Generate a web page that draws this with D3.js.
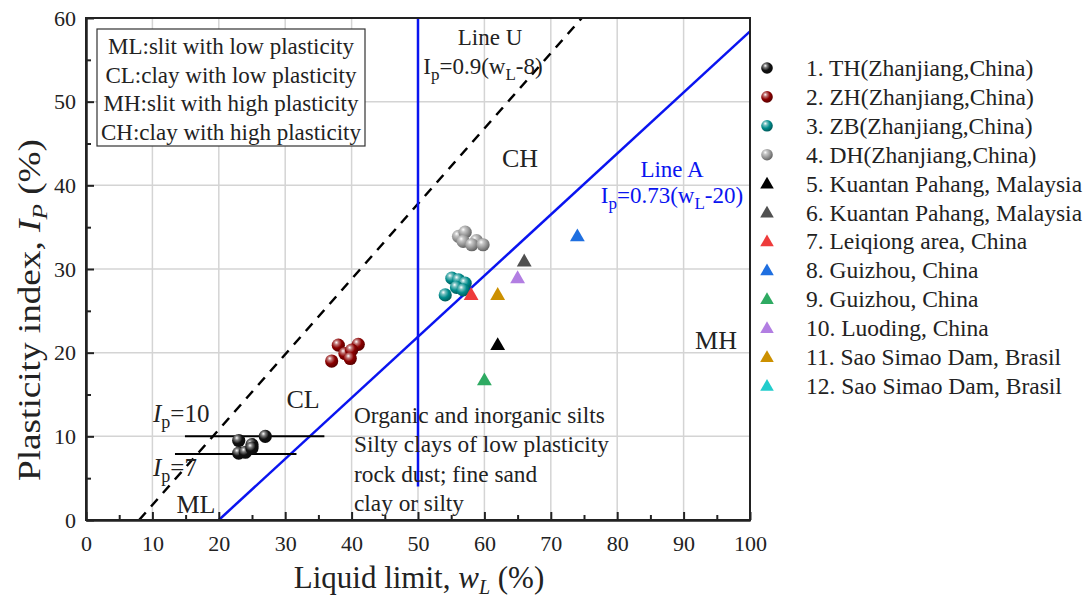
<!DOCTYPE html>
<html><head><meta charset="utf-8">
<script src="https://cdn.jsdelivr.net/npm/d3@7"></script>
<style>body{margin:0;background:#fff}svg{display:block}text{font-family:"Liberation Serif","Times New Roman",serif;fill:#222}</style>
</head><body><svg id="c" width="1088" height="601"></svg>
<script>
// ---- data ----
const xTicks = [0,10,20,30,40,50,60,70,80,90,100];
const yTicks = [0,10,20,30,40,50,60];
const seriesNames = ["1. TH(Zhanjiang,China)","2. ZH(Zhanjiang,China)","3. ZB(Zhanjiang,China)","4. DH(Zhanjiang,China)","5. Kuantan Pahang, Malaysia","6. Kuantan Pahang, Malaysia","7. Leiqiong area, China","8. Guizhou, China","9. Guizhou, China","10. Luoding, China","11. Sao Simao Dam, Brasil","12. Sao Simao Dam, Brasil"];
const seriesShapes = ["sphere","sphere","sphere","sphere","tri","tri","tri","tri","tri","tri","tri","tri"];
const seriesColors = ["#111111","#8b0000","#008b8b","#9a9a9a","#000000","#505050","#ee3b3b","#1f6fe0","#2eaa62","#b27ee2","#cc9000","#22cccc"];
const s1 = [[23,9.5],[27,10],[25,9],[23,8],[24,8.1],[25,8.6]];
const s2 = [[38,20.9],[41,21],[39,19.9],[40,20.3],[39.8,19.3],[37,19]];
const s3 = [[55.1,28.9],[56.1,28.7],[57.1,28.3],[55.8,27.8],[56.8,27.5],[54.1,26.9]];
const s4 = [[56.1,33.9],[57.1,34.4],[56.8,33.3],[58.8,33.4],[58.1,32.9],[59.8,32.9]];
const s5 = [[62,21]];
const s6 = [[66,31]];
const s7 = [[58,27]];
const s8 = [[74,34]];
const s9 = [[60,16.8]];
const s10 = [[65,29]];
const s11 = [[62,27]];
const s12 = [];
const seriesData = [s1,s2,s3,s4,s5,s6,s7,s8,s9,s10,s11,s12];
const lineU = [[8,0],[74.67,60]];          // Ip = 0.9(wL-8)
const lineA = [[20,0],[100,58.4]];         // Ip = 0.73(wL-20)
const lineV = [[50,60],[50,4]];            // wL = 50
const lineIp10 = [[14.9,10],[35.9,10]];
const lineIp7 = [[13.4,7.9],[31.7,7.9]];
const legendBoxLines = ["ML:slit with low plasticity","CL:clay with low plasticity","MH:slit with high plasticity","CH:clay with high plasticity"];
const organicLines = ["Organic and inorganic silts","Silty clays of low plasticity","rock dust; fine sand","clay or silty"];

// ---- layout ----
const svg = d3.select("#c");
const L=86,R=750,T=18,B=520;
const x = d3.scaleLinear().domain([0,100]).range([L,R]);
const y = d3.scaleLinear().domain([0,60]).range([B,T]);

// grid
const g = svg.append("g");
g.selectAll(".gx").data(xTicks.slice(1,-1)).join("line")
 .attr("x1",d=>x(d)).attr("x2",d=>x(d)).attr("y1",T).attr("y2",B)
 .attr("stroke","#d4d4d4").attr("stroke-width",1.5);
g.selectAll(".gy").data(yTicks.slice(1,-1)).join("line")
 .attr("y1",d=>y(d)).attr("y2",d=>y(d)).attr("x1",L).attr("x2",R)
 .attr("stroke","#d4d4d4").attr("stroke-width",1.5);

// defs gradients
const defs = svg.append("defs");
seriesColors.forEach((c,i)=>{
  const gr = defs.append("radialGradient").attr("id","sph"+i).attr("cx","38%").attr("cy","35%").attr("r","65%").attr("fx","35%").attr("fy","30%");
  gr.append("stop").attr("offset","0%").attr("stop-color","#ffffff");
  gr.append("stop").attr("offset","25%").attr("stop-color",d3.interpolateRgb("#ffffff",c)(0.55));
  gr.append("stop").attr("offset","60%").attr("stop-color",c);
  gr.append("stop").attr("offset","100%").attr("stop-color",d3.color(c).darker(1.2));
});

const line = d3.line().x(d=>x(d[0])).y(d=>y(d[1]));
svg.append("path").attr("d",line(lineU)).attr("fill","none").attr("stroke","#000").attr("stroke-width",2.5).attr("stroke-dasharray","10,8");
svg.append("path").attr("d",line(lineA)).attr("fill","none").attr("stroke","#0a14f0").attr("stroke-width",2.5);
svg.append("path").attr("d",line(lineV)).attr("fill","none").attr("stroke","#0a14f0").attr("stroke-width",2.5);
svg.append("path").attr("d",line(lineIp10)).attr("fill","none").attr("stroke","#000").attr("stroke-width",2);
svg.append("path").attr("d",line(lineIp7)).attr("fill","none").attr("stroke","#000").attr("stroke-width",2);

// annotations (drawn under marks)
const ann = (tx,ty,html,opts={})=>svg.append("text").attr("x",tx).attr("y",ty).attr("font-size",opts.fs||23).attr("text-anchor",opts.anchor||"middle").style("fill",opts.color||"#222").html(html);
ann(490,45,"Line U");
ann(483,74,'I<tspan font-size="17" dy="6">p</tspan><tspan dy="-6">=0.9(w</tspan><tspan font-size="17" dy="6">L</tspan><tspan dy="-6">-8)</tspan>');
ann(520,167,"CH",{fs:26});
ann(672,177,"Line A",{color:"#0a14f0"});
ann(672,203,'I<tspan font-size="17" dy="6">p</tspan><tspan dy="-6">=0.73(w</tspan><tspan font-size="17" dy="6">L</tspan><tspan dy="-6">-20)</tspan>',{color:"#0a14f0"});
ann(716,349,"MH",{fs:26});
ann(303,408,"CL",{fs:26});
ann(196,513,"ML",{fs:26});
ann(153,422,'<tspan font-style="italic">I</tspan><tspan font-size="18" dy="6">p</tspan><tspan dy="-6">=10</tspan>',{anchor:"start",fs:25});
ann(153,476,'<tspan font-style="italic">I</tspan><tspan font-size="18" dy="6">p</tspan><tspan dy="-6">=7</tspan>',{anchor:"start",fs:25});
svg.selectAll(".ol").data(organicLines).join("text").attr("x",354).attr("y",(d,i)=>423+i*29.3).attr("font-size",23.3).text(d=>d);

// marks
const tri = d3.symbol().type(d3.symbolTriangle).size(95);
seriesData.forEach((arr,i)=>{
  arr.forEach(p=>{
    const m = svg.append("g").attr("transform",`translate(${x(p[0])},${y(p[1])})`);
    if(seriesShapes[i]==="sphere") m.append("circle").attr("r",6.6).attr("fill","url(#sph"+i+")");
    else m.append("path").attr("d",tri()).attr("transform","translate(0,1.5)").attr("fill",seriesColors[i]);
  });
});

// frame
svg.append("rect").attr("x",L).attr("y",T).attr("width",R-L).attr("height",B-T).attr("fill","none").attr("stroke","#222").attr("stroke-width",2);

// axes
const minorX = d3.range(5,100,10), minorY = d3.range(5,60,10);
const ax = svg.append("g").attr("transform",`translate(0,${B})`).call(d3.axisBottom(x).tickValues(xTicks).tickSizeInner(-8).tickSizeOuter(0).tickPadding(15));
const axm = svg.append("g").attr("transform",`translate(0,${B})`).call(d3.axisBottom(x).tickValues(minorX).tickSizeInner(-5).tickSizeOuter(0).tickFormat(""));
const ay = svg.append("g").attr("transform",`translate(${L},0)`).call(d3.axisLeft(y).tickValues(yTicks).tickSizeInner(-8).tickSizeOuter(0).tickPadding(10));
const aym = svg.append("g").attr("transform",`translate(${L},0)`).call(d3.axisLeft(y).tickValues(minorY).tickSizeInner(-5).tickSizeOuter(0).tickFormat(""));
[ax,axm,ay,aym].forEach(a=>{a.select(".domain").attr("stroke","#222").attr("stroke-width",2);a.selectAll("line").attr("stroke","#222").attr("stroke-width",2);});
[ax,ay].forEach(a=>a.selectAll("text").attr("font-size",22).attr("fill","#222").style("font-family","Liberation Serif"));

// axis titles
svg.append("text").attr("x",419).attr("y",588).attr("text-anchor","middle").attr("font-size",31)
  .html('Liquid limit, <tspan font-style="italic">w</tspan><tspan font-style="italic" font-size="20" dy="6">L</tspan><tspan dy="-6"> (%)</tspan>');
svg.append("text").attr("transform","translate(40,310) rotate(-90) scale(1.2,1)").attr("text-anchor","middle").attr("font-size",31)
  .html('Plasticity index, <tspan font-style="italic">I</tspan><tspan font-style="italic" font-size="21" dy="7">P</tspan><tspan dy="-7"> (%)</tspan>');

// classification box
svg.append("rect").attr("x",97).attr("y",29).attr("width",268).attr("height",117).attr("fill","#fff").attr("stroke","#333").attr("stroke-width",1.2);
svg.selectAll(".bl").data(legendBoxLines).join("text").attr("x",231).attr("y",(d,i)=>54+i*28.7).attr("text-anchor","middle").attr("font-size",23).text(d=>d);

// legend
const lg = svg.append("g");
seriesNames.forEach((n,i)=>{
  const yy = 68 + i*28.9;
  const m = lg.append("g").attr("transform",`translate(767,${yy})`);
  if(seriesShapes[i]==="sphere") m.append("circle").attr("r",5.8).attr("fill","url(#sph"+i+")");
  else m.append("path").attr("d",d3.symbol().type(d3.symbolTriangle).size(80)()).attr("transform","translate(0,1)").attr("fill",seriesColors[i]);
  lg.append("text").attr("x",806).attr("y",yy+8).attr("font-size",23.5).text(n);
});
</script></body></html>
